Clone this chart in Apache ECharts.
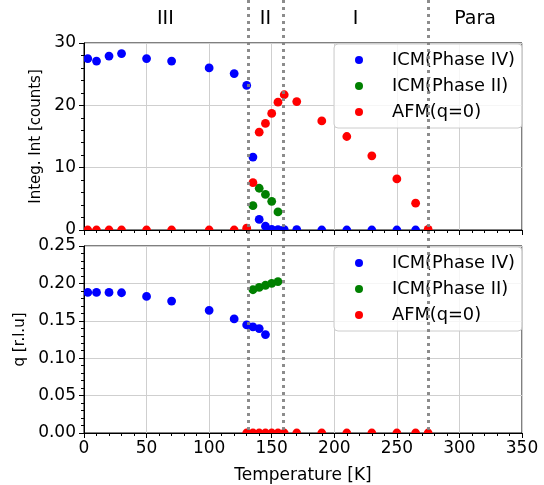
<!DOCTYPE html>
<html>
<head>
<meta charset="utf-8">
<script src="https://cdn.jsdelivr.net/npm/echarts@6/dist/echarts.min.js"></script>
<style>html,body{margin:0;padding:0;background:#fff}#c{width:544px;height:485px}</style>
</head>
<body>
<div id="c"></div>
<script>
// ---- data ----
const seriesNames = ['ICM(Phase IV)', 'ICM(Phase II)', 'AFM(q=0)'];
const tempIV = [3, 10, 20, 30, 50, 70, 100, 120, 130, 135, 140, 145, 150, 155, 160, 170, 190, 210, 230, 250, 265];
const intIV = [27.5, 27.1, 27.9, 28.3, 27.5, 27.1, 26.0, 25.1, 23.2, 11.7, 1.7, 0.6, 0.1, 0.05, 0.05, 0.05, 0, 0, 0, 0, 0];
const tempII = [135, 140, 145, 150, 155];
const intII = [3.9, 6.7, 5.7, 4.6, 2.9];
const tempAFM = [3, 10, 20, 30, 50, 70, 100, 120, 130, 135, 140, 145, 150, 155, 160, 170, 190, 210, 230, 250, 265, 275];
const intAFM = [0, 0, 0, 0, 0, 0, 0, 0, 0.3, 7.6, 15.7, 17.1, 18.7, 20.5, 21.7, 20.6, 17.5, 15.0, 11.9, 8.2, 4.3, 0.1];

const qTempIV = [3, 10, 20, 30, 50, 70, 100, 120, 130, 135, 140, 145];
const qIV = [0.188, 0.188, 0.188, 0.1875, 0.1826, 0.1764, 0.164, 0.1525, 0.1445, 0.1418, 0.1396, 0.1316];
const qTempII = [135, 140, 145, 150, 155];
const qII = [0.1915, 0.1946, 0.1975, 0.2, 0.2025];
const qTempAFM = [130, 135, 140, 145, 150, 155, 160, 170, 190, 210, 230, 250, 265, 275];
const qAFM = [0, 0, 0, 0, 0, 0, 0, 0, 0, 0, 0, 0, 0, 0];

const phaseBounds = [131, 159, 275];
const phaseNames = ['III', 'II', 'I', 'Para'];
const phaseCenters = [65, 145, 217, 312.5];

const xTicks = [0, 50, 100, 150, 200, 250, 300, 350];
const yTicksTop = [0, 10, 20, 30];
const yTicksBottom = [0, 0.05, 0.10, 0.15, 0.20, 0.25];
// ---------------

const FONT = 'DejaVu Sans';
const colors = ['#0000ff', '#008000', '#ff0000'];
const chart = echarts.init(document.getElementById('c'), null, {renderer: 'canvas'});

function dots(name, xs, ys, color, idx) {
  return {
    type: 'custom', name: name, xAxisIndex: idx, yAxisIndex: idx, clip: true,
    itemStyle: {color: color}, z: 3,
    data: xs.map((x, i) => [x, ys[i]]),
    encode: {x: 0, y: 1},
    renderItem: function (params, api) {
      const p = api.coord([api.value(0), api.value(1)]);
      return {type: 'circle', shape: {cx: p[0], cy: p[1], r: 4.4}, style: {fill: api.visual('color')}};
    }
  };
}

function xAxis(idx, showLabels) {
  return {
    type: 'value', gridIndex: idx, min: xTicks[0], max: xTicks[xTicks.length - 1], interval: 50,
    axisLine: {show: true, onZero: false, lineStyle: {color: '#000', width: 1}},
    axisTick: {show: true, length: 5, lineStyle: {color: '#000'}},
    minorTick: {show: true, splitNumber: 5, length: 3, lineStyle: {color: '#000'}},
    splitLine: {show: true, lineStyle: {color: '#cfcfcf', width: 1}},
    axisLabel: {show: showLabels, fontFamily: FONT, fontSize: 17, color: '#000', margin: 7},
    name: showLabels ? 'Temperature [K]' : '', nameLocation: 'middle', nameGap: 34,
    nameTextStyle: {fontFamily: FONT, fontSize: 17, color: '#000'}
  };
}

function yAxis(idx, ticks, name, gap, fmt) {
  return {
    type: 'value', gridIndex: idx, min: ticks[0], max: ticks[ticks.length - 1], interval: ticks[1] - ticks[0],
    axisLine: {show: true, onZero: false, lineStyle: {color: '#000', width: 1}},
    axisTick: {show: true, length: 5, lineStyle: {color: '#000'}},
    minorTick: {show: true, splitNumber: 5, length: 3, lineStyle: {color: '#000'}},
    splitLine: {show: true, lineStyle: {color: '#cfcfcf', width: 1}},
    axisLabel: {fontFamily: FONT, fontSize: 17, color: '#000', margin: 8, formatter: fmt},
    name: name, nameLocation: 'middle', nameGap: gap, nameRotate: 90,
    nameTextStyle: {fontFamily: FONT, fontSize: 15, color: '#000'}
  };
}

function legend(top) {
  return {
    data: seriesNames, left: 334, top: top, orient: 'vertical',
    icon: 'circle', itemWidth: 8, itemHeight: 8, itemGap: 6,
    padding: [6, 7, 6, 21],
    backgroundColor: 'rgba(255,255,255,0.8)', borderColor: '#cccccc', borderWidth: 1, borderRadius: 4,
    formatter: name => '{g|}' + name,
    textStyle: {fontFamily: FONT, fontSize: 17.8, color: '#000', lineHeight: 20,
      rich: {g: {width: 24}}},
    selectedMode: false
  };
}

const option = {
  animation: false,
  backgroundColor: '#fff',
  grid: [
    {left: 84, top: 43, width: 438, height: 187, show: true, borderColor: '#000', borderWidth: 1, containLabel: false},
    {left: 84, top: 246, width: 438, height: 188, show: true, borderColor: '#000', borderWidth: 1, containLabel: false},
    {left: 84, top: 0, width: 438, height: 434, show: false}
  ],
  xAxis: [
    xAxis(0, false),
    xAxis(1, true),
    {type: 'value', gridIndex: 2, min: 0, max: 350, show: false}
  ],
  yAxis: [
    yAxis(0, yTicksTop, 'Integ. Int [counts]', 34, v => String(v)),
    yAxis(1, yTicksBottom, 'q [r.l.u]', 53, v => v.toFixed(2)),
    {type: 'value', gridIndex: 2, min: 0, max: 434, inverse: true, show: false}
  ],
  legend: [legend(44), legend(247)],
  series: [
    dots(seriesNames[0], tempIV, intIV, colors[0], 0),
    dots(seriesNames[1], tempII, intII, colors[1], 0),
    dots(seriesNames[2], tempAFM, intAFM, colors[2], 0),
    dots(seriesNames[0], qTempIV, qIV, colors[0], 1),
    dots(seriesNames[1], qTempII, qII, colors[1], 1),
    dots(seriesNames[2], qTempAFM, qAFM, colors[2], 1),
    {
      type: 'line', xAxisIndex: 2, yAxisIndex: 2, data: [], z: 20, silent: true,
      markLine: {
        silent: true, symbol: ['none', 'none'], label: {show: false}, animation: false,
        lineStyle: {color: 'rgba(128,128,128,0.9)', width: 3, type: [3, 4], cap: 'butt'},
        emphasis: {disabled: true},
        data: phaseBounds.map(t => ({xAxis: t}))
      }
    },
    {
      type: 'scatter', xAxisIndex: 2, yAxisIndex: 2, symbolSize: 0, silent: true, z: 21,
      itemStyle: {opacity: 1},
      data: phaseNames.map((n, i) => [phaseCenters[i], 19, n]),
      label: {show: true, position: 'inside', formatter: p => p.data[2], fontFamily: FONT, fontSize: 19, color: '#000', opacity: 1}
    }
  ]
};
chart.setOption(option);
</script>
</body>
</html>
